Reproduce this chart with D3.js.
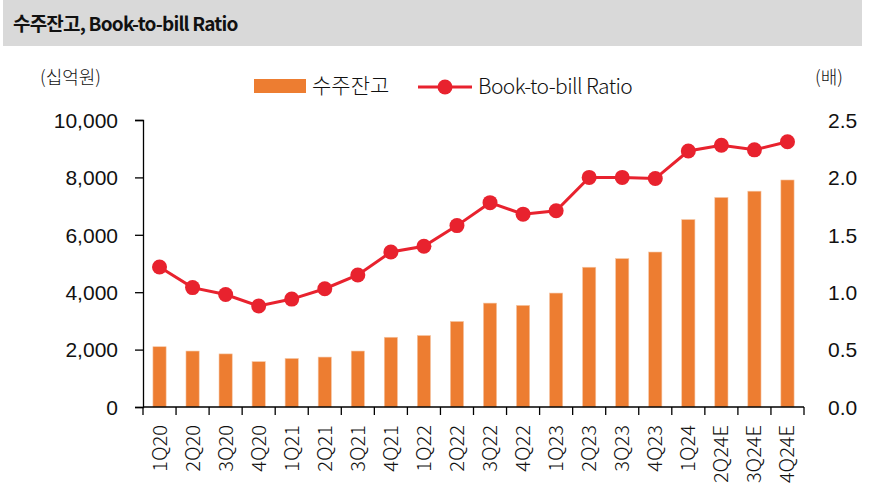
<!DOCTYPE html>
<html>
<head>
<meta charset="utf-8">
<script src="https://cdn.jsdelivr.net/npm/d3@7"></script>
<style>
  body { margin: 0; background: #fff; }
  svg { display: block; font-family: "Noto Sans CJK KR", "Noto Sans", sans-serif; }
  .axis path, .axis line { stroke: #000; }
  .lt { font-weight: 300; }
</style>
</head>
<body>
<svg id="chart" width="874" height="500"></svg>
<script>
const quarters = ["1Q20","2Q20","3Q20","4Q20","1Q21","2Q21","3Q21","4Q21","1Q22","2Q22",
  "3Q22","4Q22","1Q23","2Q23","3Q23","4Q23","1Q24","2Q24E","3Q24E","4Q24E"];
const backlog = [2100,1950,1850,1580,1690,1740,1950,2430,2490,2980,
  3620,3540,3970,4870,5170,5400,6530,7300,7520,7910];
const btbRatio = [1.22,1.04,0.98,0.88,0.94,1.03,1.15,1.35,1.40,1.58,
  1.78,1.68,1.71,2.00,2.00,1.99,2.23,2.28,2.24,2.31];
const leftTicks = [0,2000,4000,6000,8000,10000];
const rightTicks = [0,0.5,1.0,1.5,2.0,2.5];

const svg = d3.select("#chart");
const margin = {top: 120, left: 143, right: 70, bottom: 93};
const width = 874 - margin.left - margin.right;
const height = 500 - margin.top - margin.bottom;

// title bar
svg.append("rect").attr("x", 3).attr("y", 0).attr("width", 859).attr("height", 46).attr("fill", "#d9d9d9");
svg.append("text").attr("x", 13).attr("y", 31)
  .attr("font-size", 19).attr("font-weight", 700).attr("fill", "#111")
  .attr("letter-spacing", -0.8)
  .text("수주잔고, Book-to-bill Ratio");

const plot = svg.append("g").attr("transform", `translate(${margin.left},${margin.top})`);

const xTick = d3.scaleBand().domain(quarters).range([0, width]);
const yL = d3.scaleLinear().domain([0, 10000]).range([height, 0]);
const yR = d3.scaleLinear().domain([0, 2.5]).range([height, 0]);

// bars
plot.selectAll(".bar").data(quarters).join("rect")
  .attr("class", "bar")
  .attr("x", d => xTick(d) + xTick.bandwidth() / 2 - 6.6)
  .attr("width", 13.2)
  .attr("y", (d, i) => yL(backlog[i]))
  .attr("height", (d, i) => height - yL(backlog[i]))
  .attr("fill", "#ed7d31")
  .attr("stroke", "#f6c6a4").attr("stroke-width", 0.6);

// left axis
const gL = plot.append("g").attr("class", "axis")
  .call(d3.axisLeft(yL).tickValues(leftTicks).tickSize(8).tickPadding(17).tickFormat(d3.format(",")));
gL.selectAll("text").attr("class", "lt").attr("font-size", 21).attr("fill", "#111").attr("dy", "0.35em");
gL.select(".domain").attr("stroke-width", 1.3);
gL.selectAll(".tick line").attr("stroke-width", 1.3);

// right axis labels (no line)
const gR = plot.append("g").attr("class", "axis").attr("transform", `translate(${width},0)`)
  .call(d3.axisRight(yR).tickValues(rightTicks).tickSize(0).tickPadding(24).tickFormat(d3.format(".1f")));
gR.select(".domain").remove();
gR.selectAll("text").attr("class", "lt").attr("font-size", 21).attr("fill", "#111").attr("dy", "0.35em");

// bottom axis with ticks at band boundaries
const gB = plot.append("g").attr("class", "axis").attr("transform", `translate(0,${height})`);
gB.append("line").attr("x1", 0).attr("x2", width).attr("stroke", "#000").attr("stroke-width", 1.3);
const bounds = quarters.map(d => xTick(d)).concat([width]);
gB.selectAll(".btick").data(bounds).join("line")
  .attr("x1", d => d).attr("x2", d => d).attr("y1", 0).attr("y2", 8)
  .attr("stroke", "#000").attr("stroke-width", 1.3);
gB.selectAll(".xlab").data(quarters).join("text")
  .attr("class", "lt")
  .attr("transform", d => `translate(${xTick(d) + xTick.bandwidth() / 2 + 7},18) rotate(-90)`)
  .attr("text-anchor", "end")
  .attr("font-size", 20).attr("fill", "#111")
  .text(d => d);

// line series
const line = d3.line()
  .x(d => xTick(d.q) + xTick.bandwidth() / 2)
  .y(d => yR(d.v));
const lineData = quarters.map((q, i) => ({q: q, v: btbRatio[i]}));
plot.append("path").datum(lineData)
  .attr("fill", "none").attr("stroke", "#e8222e").attr("stroke-width", 3)
  .attr("d", line);
plot.selectAll(".dot").data(lineData).join("circle")
  .attr("cx", d => xTick(d.q) + xTick.bandwidth() / 2)
  .attr("cy", d => yR(d.v))
  .attr("r", 7.5).attr("fill", "#e8222e");

// unit labels
svg.append("text").attr("class", "lt").attr("x", 40).attr("y", 84).attr("font-size", 18).attr("fill", "#111").text("(십억원)");
svg.append("text").attr("class", "lt").attr("x", 815).attr("y", 84).attr("font-size", 18).attr("fill", "#111").text("(배)");

// legend
const lg = svg.append("g");
lg.append("rect").attr("x", 254).attr("y", 79).attr("width", 52).attr("height", 14).attr("fill", "#ed7d31");
lg.append("text").attr("class", "lt").attr("x", 312).attr("y", 93).attr("font-size", 21).attr("fill", "#111").text("수주잔고");
lg.append("line").attr("x1", 418).attr("x2", 472).attr("y1", 87).attr("y2", 87)
  .attr("stroke", "#e8222e").attr("stroke-width", 3);
lg.append("circle").attr("cx", 445).attr("cy", 87).attr("r", 7.5).attr("fill", "#e8222e");
lg.append("text").attr("class", "lt").attr("x", 478).attr("y", 94).attr("font-size", 21).attr("fill", "#111")
  .attr("letter-spacing", -0.6).text("Book-to-bill Ratio");
</script>
</body>
</html>
